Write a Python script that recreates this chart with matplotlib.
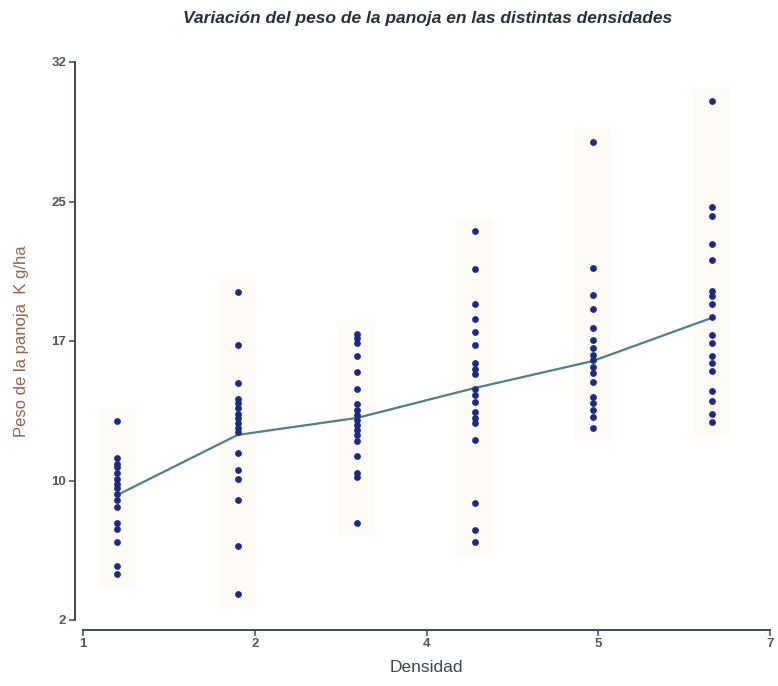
import matplotlib.pyplot as plt
import matplotlib.patches as patches

plt.rcParams['font.family'] = ['Liberation Sans', 'DejaVu Sans']

# group positions along the density axis
densidad = [1.30, 2.35, 3.39, 4.42, 5.45, 6.49]

# panicle weight per plot
peso_1 = [12.7, 10.7, 10.4, 10.2, 9.9, 9.6, 9.3, 9.1, 8.8, 8.45, 8.1, 7.2, 6.9, 6.2, 4.9, 4.5]
peso_2 = [19.65, 16.8, 14.76, 13.9, 13.65, 13.4, 13.1, 12.85, 12.6, 12.3, 12.1,
          10.96, 10.06, 9.6, 8.45, 6.0, 3.4]
peso_3 = [17.4, 17.15, 16.9, 16.2, 15.35, 14.4, 13.6, 13.3, 13.0, 12.75, 12.5,
          12.2, 11.95, 11.6, 10.8, 9.9, 9.7, 7.2]
peso_4 = [22.9, 20.85, 19.0, 18.2, 17.5, 16.8, 15.8, 15.5, 15.2, 14.4, 14.1,
          13.7, 13.2, 12.85, 12.6, 11.7, 8.3, 6.85, 6.2]
peso_5 = [27.7, 20.9, 19.5, 18.7, 17.7, 17.05, 16.6, 16.25, 16.0, 15.6, 15.3,
          14.8, 14.0, 13.65, 13.3, 12.9, 12.3]
peso_6 = [29.9, 24.2, 23.7, 22.2, 21.35, 19.7, 19.4, 19.0, 18.3, 17.3, 16.9,
          16.2, 15.8, 15.4, 14.3, 13.75, 13.1, 12.65]
grupos = [peso_1, peso_2, peso_3, peso_4, peso_5, peso_6]

# mean line as drawn in the chart
medias = [8.72, 11.95, 12.86, 14.47, 15.92, 18.24]

x_ticks = [1, 2.5, 4, 5.5, 7]
x_labels = ['1', '2', '4', '5', '7']
y_ticks = [2, 9.5, 17, 24.5, 32]
y_labels = ['2', '10', '17', '25', '32']

dot_color = '#1c2a80'
line_color = '#4f7f86'
axis_color = '#3c4a58'

fig = plt.figure(figsize=(7.78, 6.86), dpi=100)
ax = fig.add_axes([83 / 778, 1 - 620 / 686, 687 / 778, 558 / 686])

# very faint shaded boxes behind every group
for xg, vals in zip(densidad, grupos):
    box = patches.Rectangle((xg - 0.16, min(vals) - 0.7), 0.32,
                            max(vals) - min(vals) + 1.4,
                            facecolor='#fefaf5', edgecolor='none', zorder=0)
    ax.add_patch(box)

for xg, vals in zip(densidad, grupos):
    ax.scatter([xg] * len(vals), vals, s=24, color=dot_color, zorder=3,
               linewidths=0)

ax.plot(densidad, medias, color=line_color, linewidth=1.6, zorder=2)

ax.set_xlim(1, 7)
ax.set_ylim(2, 32)
ax.set_xticks(x_ticks)
ax.set_xticklabels(x_labels)
ax.set_yticks(y_ticks)
ax.set_yticklabels(y_labels)

for side in ['top', 'right']:
    ax.spines[side].set_visible(False)
ax.spines['left'].set_position(('outward', 6))
ax.spines['bottom'].set_position(('outward', 7))
for side in ['left', 'bottom']:
    ax.spines[side].set_color(axis_color)
    ax.spines[side].set_linewidth(1.4)
ax.tick_params(axis='both', length=4, width=1.1, color=axis_color,
               labelsize=9.5, labelcolor='#555555', pad=2)
for lab in ax.get_xticklabels() + ax.get_yticklabels():
    lab.set_fontweight('bold')

ax.set_xlabel('Densidad', fontsize=12.5, color='#3c4652', labelpad=7)
ax.set_ylabel('Peso de la panoja  K g/ha', fontsize=12, color='#94644c',
              labelpad=16)
fig.text(428 / 778, 1 - 18 / 686,
         'Variación del peso de la panoja en las distintas densidades',
         ha='center', va='center', fontsize=12.5, fontweight='bold',
         fontstyle='italic', color='#26303c')

fig.savefig('out.png', dpi=100, facecolor='white')
